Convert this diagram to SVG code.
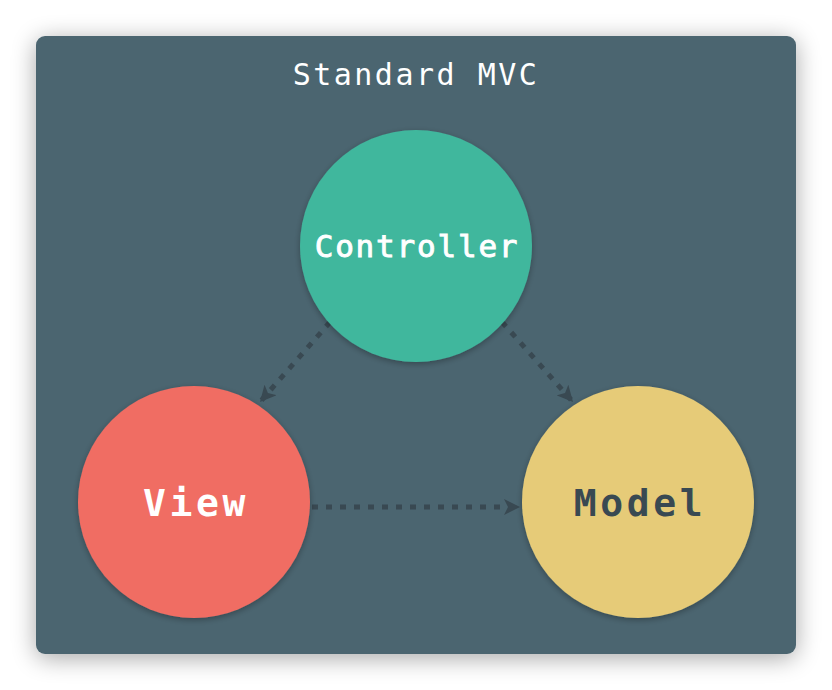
<svg xmlns="http://www.w3.org/2000/svg" width="832" height="690" viewBox="0 0 832 690">
<defs>
<style>
.t{font-family:"DejaVu Sans Mono","Liberation Mono",monospace;text-anchor:middle}
.title{font-size:30px;fill:#ffffff;letter-spacing:2.5px}
.lbl{font-size:31px;letter-spacing:1.8px;stroke:#ffffff;stroke-width:0.9px}
.big{font-weight:bold;font-size:38px;letter-spacing:3.6px}
.conn{fill:none;stroke:#394952;stroke-width:5;stroke-dasharray:6 8}
</style>
<filter id="ps" x="-10%" y="-10%" width="120%" height="125%">
<feGaussianBlur in="SourceAlpha" stdDeviation="12"/>
<feOffset dy="4"/>
<feComponentTransfer><feFuncA type="linear" slope="0.35"/></feComponentTransfer>
<feMerge><feMergeNode/><feMergeNode in="SourceGraphic"/></feMerge>
</filter>
<filter id="cs" x="-20%" y="-20%" width="140%" height="140%">
<feGaussianBlur in="SourceAlpha" stdDeviation="3"/>
<feOffset dy="2"/>
<feComponentTransfer><feFuncA type="linear" slope="0.3"/></feComponentTransfer>
<feMerge><feMergeNode/><feMergeNode in="SourceGraphic"/></feMerge>
</filter>
<marker id="ah" markerUnits="userSpaceOnUse" markerWidth="18" markerHeight="16" refX="16" refY="8" orient="auto">
<path d="M0,0 L16,8 L0,16 L4,8 Z" fill="#394952"/>
</marker>
</defs>
<rect width="832" height="690" fill="#ffffff"/>
<g id="panel">
<rect x="36" y="36" width="760" height="618" rx="9" fill="#4c6570" filter="url(#ps)"/>
<text class="t title" x="416" y="85">Standard MVC</text>
</g>
<g id="connectors">
<line class="conn" x1="330" y1="322" x2="260" y2="402" marker-end="url(#ah)"/>
<line class="conn" x1="502" y1="322" x2="573" y2="402" marker-end="url(#ah)"/>
<line class="conn" x1="312" y1="507" x2="520" y2="507" marker-end="url(#ah)"/>
</g>
<g id="controller">
<circle cx="416" cy="246" r="116" fill="#41b79d" filter="url(#cs)"/>
<text class="t lbl" x="417" y="257" fill="#ffffff">Controller</text>
</g>
<g id="view">
<circle cx="194" cy="502" r="116" fill="#f06d63" filter="url(#cs)"/>
<text class="t big" x="196" y="516" fill="#ffffff">View</text>
</g>
<g id="model">
<circle cx="638" cy="502" r="116" fill="#e6cb78" filter="url(#cs)"/>
<text class="t big" x="640" y="516" fill="#394952">Model</text>
</g>
</svg>
